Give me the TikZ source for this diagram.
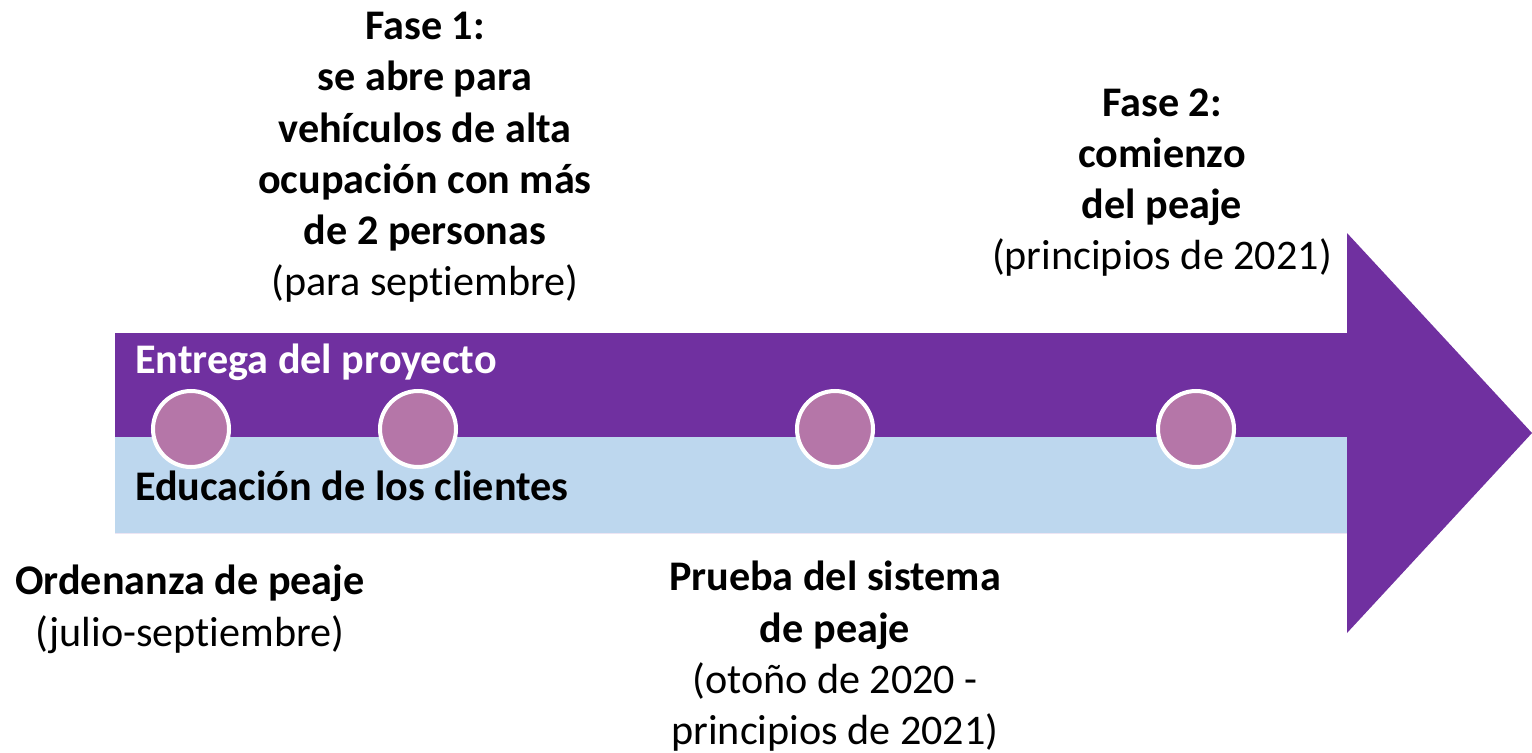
\documentclass[tikz,border=0pt]{standalone}
\usepackage{fontspec}
\setmainfont[Ligatures=NoCommon]{Carlito}
\usetikzlibrary{positioning,calc}
\definecolor{arrowpurple}{HTML}{7030A0}
\definecolor{bandblue}{HTML}{BDD7EE}
\definecolor{dotpink}{HTML}{B576A8}

\begin{document}
\begin{tikzpicture}[x=0.02cm,y=-0.02cm]

    % Styles
    \tikzset{
        milestone/.style={circle, draw=white, line width=2.3pt, fill=dotpink, minimum size=1.52cm, inner sep=0pt},
        phase/.style={align=center, inner sep=0pt, font=\fontsize{24}{29.1}\selectfont},
        bandlabel/.style={inner sep=0pt, font=\fontsize{24}{29.1}\selectfont\bfseries}
    }

    \useasboundingbox (0,0) rectangle (1532,752);

    % Coordinates
    \coordinate (S) at (115,433);     % start of the timeline
    \coordinate (H) at (1347,433);    % base of the arrow head
    \coordinate (T) at (1532,433);    % tip

    % Arrow
    \fill[arrowpurple] ($(S)+(0,-100)$) -- ($(H)+(0,-100)$) -- ($(H)+(0,-200)$)
        -- (T) -- ($(H)+(0,200)$) -- ($(H)+(0,100)$) -- ($(S)+(0,100)$) -- cycle;

    % Lower band
    \fill[bandblue] ($(S)+(0,4)$) rectangle ($(H)+(0,100)$);

    % Band labels
    \node[bandlabel, text=white, anchor=base west] (entrega) at (135,373) {Entrega del proyecto};
    \node[bandlabel, anchor=base west] (educacion) at (135,500) {Educación de los clientes};

    % Milestones
    \node[milestone] (m1) at (191,429) {};
    \node[milestone] (m2) at (418,429) {};
    \node[milestone] (m3) at (835,429) {};
    \node[milestone] (m4) at (1196,429) {};

    % Phases above
    \node[phase, anchor=north] (fase1) at (425,12) {\textbf{Fase 1:}\\ \textbf{se abre para}\\ \textbf{vehículos de alta}\\
        \textbf{ocupación con más}\\ \textbf{de 2 personas}\\ (para septiembre)};
    \node[phase, anchor=north] (fase2) at (1162,88) {\textbf{Fase 2:}\\ \textbf{comienzo}\\ \textbf{del peaje}\\ (principios de 2021)};

    % Steps below
    \node[phase, anchor=north] (ordenanza) at (190,565) {\textbf{Ordenanza de peaje}\\ (julio-septiembre)};
    \node[phase, anchor=north] (prueba) at (835,561) {\textbf{Prueba del sistema}\\ \textbf{de peaje}\\ (otoño de 2020 -\\ principios de 2021)};

\end{tikzpicture}
\end{document}
